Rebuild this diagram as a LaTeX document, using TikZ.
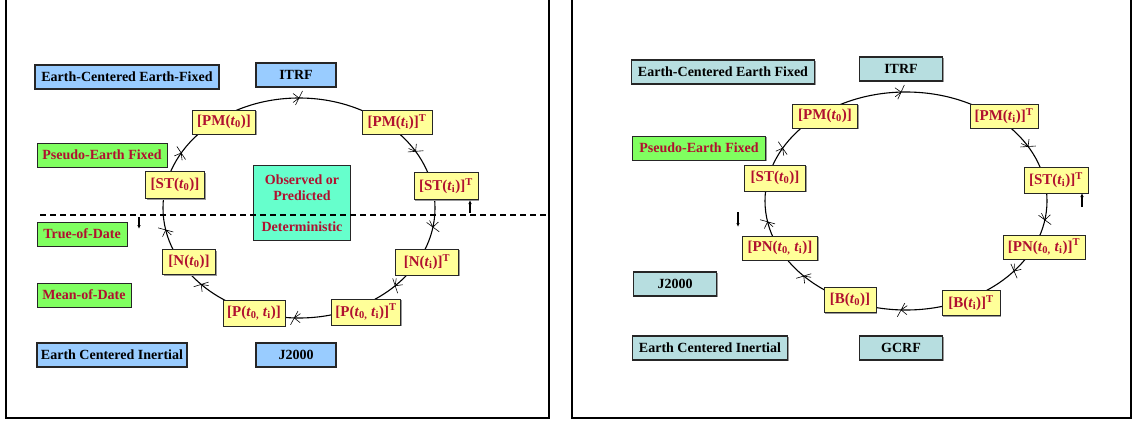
\documentclass[tikz,border=0pt]{standalone}
\usepackage{fontspec}
\setmainfont{Liberation Serif}
\usetikzlibrary{arrows.meta,shadows}

\definecolor{ecefblue}{RGB}{153,204,255}
\definecolor{gcrfteal}{RGB}{183,222,224}
\definecolor{labgreen}{RGB}{128,255,96}
\definecolor{matyellow}{RGB}{255,255,153}
\definecolor{obsgreen}{RGB}{102,255,204}
\definecolor{matred}{RGB}{176,16,48}

\newcommand{\tsub}[1]{\textit{t}\textsubscript{#1}}

\begin{document}
\begin{tikzpicture}[
    x=1pt, y=1pt,
    every node/.style={font=\fontsize{14}{16.5}\selectfont\bfseries},
    boxed/.style={draw=black!85, line width=0.9pt, inner xsep=4pt, inner ysep=0pt, minimum height=24pt,
        drop shadow={shadow xshift=1.2pt, shadow yshift=-1.2pt, fill=black!40, opacity=1}},
    sysbox/.style={boxed, fill=ecefblue, line width=1.3pt},
    gcrfbox/.style={boxed, fill=gcrfteal, line width=1.3pt},
    datebox/.style={boxed, fill=labgreen, text=matred},
    matbox/.style={boxed, fill=matyellow, text=matred, font=\fontsize{15}{17}\selectfont\bfseries, inner xsep=2pt},
    obsbox/.style={draw=black!85, line width=1.6pt, fill=obsgreen, text=matred, align=center,
        minimum width=97pt, minimum height=75pt, inner sep=0pt},
    ring/.style={line width=1.1pt},
    tickmark/.style={line width=0.6pt},
    paneframe/.style={line width=2pt},
    dashline/.style={line width=1.1pt, dash pattern=on 6pt off 4pt},
    flowarr/.style={-{Latex[length=4pt,width=3.5pt]}, line width=1.3pt},
]
\useasboundingbox (0,0) rectangle (1135,-423);

% Panel frames (top edges lie outside the picture)
\draw[paneframe] (6,0) -- (6,-418) -- (549,-418) -- (549,0);
\draw[paneframe] (572,0) -- (572,-418) -- (1131,-418) -- (1131,0);

% ---------------- Left panel: ITRF -> J2000 ----------------
\draw[ring] (299,-208) ellipse [x radius=136, y radius=110];
\begin{scope}[shift={(299,-208)}]
\foreach \a in {90,150,191.5,224,268,315,350,31}
    \draw[tickmark, shift={(\a:136 and 110)}, rotate=\a+90] (-3.5,-7) -- (3.5,7) (6,-4.5) -- (0,0) -- (6,4.5);
\end{scope}

% frame labels
\node[sysbox, minimum width=184pt] (lecef) at (127,-77) {Earth-Centered Earth-Fixed};
\node[datebox, minimum width=130pt] (lpef) at (102,-155) {Pseudo-Earth Fixed};
\node[datebox, minimum width=90pt] (ltod) at (82,-234) {True-of-Date};
\node[datebox, minimum width=94pt] (lmod) at (84,-295) {Mean-of-Date};
\node[sysbox, minimum width=150pt] (leci) at (112,-355) {Earth Centered Inertial};
\node[sysbox, minimum width=80pt] (litrf) at (296,-75) {ITRF};
\node[sysbox, minimum width=80pt] (lj2000) at (296,-355) {J2000};

% rotation matrices on the ring
\node[matbox, minimum width=63pt] (lpm0) at (224,-122) {[PM(\tsub{0})]};
\node[matbox, minimum width=70pt] (lpmi) at (397,-122) {[PM(\tsub{i})]\textsuperscript{T}};
\node[matbox, minimum width=59pt, minimum height=27pt] (lst0) at (175,-185) {[ST(\tsub{0})]};
\node[matbox, minimum width=64pt, minimum height=27pt] (lsti) at (446,-186) {[ST(\tsub{i})]\textsuperscript{T}};
\node[matbox, minimum width=53pt, minimum height=25pt] (ln0) at (189,-262) {[N(\tsub{0})]};
\node[matbox, minimum width=63pt, minimum height=26pt] (lni) at (427,-262) {[N(\tsub{i})]\textsuperscript{T}};
\node[matbox, minimum width=62pt, minimum height=26pt] (lp0) at (254,-313) {[P(\tsub{0,} \tsub{i})]};
\node[matbox, minimum width=69pt, minimum height=26pt] (lpi) at (366,-312) {[P(\tsub{0,} \tsub{i})]\textsuperscript{T}};

\node[obsbox] (lobs) at (302,-203) {Observed or\\Predicted\\[14pt]Deterministic};

% observed / deterministic boundary
\coordinate (ldashw) at (40,-215);
\coordinate (ldashe) at (547,-215);
\draw[dashline] (ldashw) -- (ldashe);
\coordinate (ldowna) at (139,-217);
\coordinate (ldownb) at (139,-229);
\draw[flowarr] (ldowna) -- (ldownb);
\coordinate (lupa) at (470,-213);
\coordinate (lupb) at (470,-200);
\draw[flowarr] (lupa) -- (lupb);

% ---------------- Right panel: ITRF -> GCRF ----------------
\draw[ring] (906,-201) ellipse [x radius=141, y radius=109];
\begin{scope}[shift={(906,-201)}]
\foreach \a in {92,151,191,223.5,268,320,350,30}
    \draw[tickmark, shift={(\a:141 and 109)}, rotate=\a+90] (-3.5,-7) -- (3.5,7) (6,-4.5) -- (0,0) -- (6,4.5);
\end{scope}

% frame labels
\node[gcrfbox, minimum width=183pt] (recef) at (723,-72) {Earth-Centered Earth Fixed};
\node[datebox, minimum width=133pt] (rpef) at (699,-148) {Pseudo-Earth Fixed};
\node[gcrfbox, minimum width=83pt] (rj2000) at (675,-284) {J2000};
\node[gcrfbox, minimum width=155pt] (reci) at (710,-348) {Earth Centered Inertial};
\node[gcrfbox, minimum width=83pt] (ritrf) at (901,-69) {ITRF};
\node[gcrfbox, minimum width=83pt] (rgcrf) at (901,-348) {GCRF};

% rotation matrices on the ring
\node[matbox, minimum width=65pt] (rpm0) at (825,-116) {[PM(\tsub{0})]};
\node[matbox, minimum width=68pt] (rpmi) at (1004,-116) {[PM(\tsub{i})]\textsuperscript{T}};
\node[matbox, minimum width=61pt, minimum height=26pt] (rst0) at (775,-178) {[ST(\tsub{0})]};
\node[matbox, minimum width=64pt, minimum height=26pt] (rsti) at (1056,-180) {[ST(\tsub{i})]\textsuperscript{T}};
\node[matbox, minimum width=75pt] (rpn0) at (780,-248) {[PN(\tsub{0,} \tsub{i})]};
\node[matbox, minimum width=82pt] (rpni) at (1044,-247) {[PN(\tsub{0,} \tsub{i})]\textsuperscript{T}};
\node[matbox, minimum width=52pt, minimum height=25pt] (rb0) at (850,-300) {[B(\tsub{0})]};
\node[matbox, minimum width=58pt, minimum height=25pt] (rbi) at (971,-303) {[B(\tsub{i})]\textsuperscript{T}};

% direction arrows
\coordinate (rupa) at (1082,-207);
\coordinate (rupb) at (1082,-193);
\draw[flowarr] (rupa) -- (rupb);
\coordinate (rdowna) at (738,-212);
\coordinate (rdownb) at (738,-227);
\draw[flowarr] (rdowna) -- (rdownb);

\end{tikzpicture}
\end{document}
